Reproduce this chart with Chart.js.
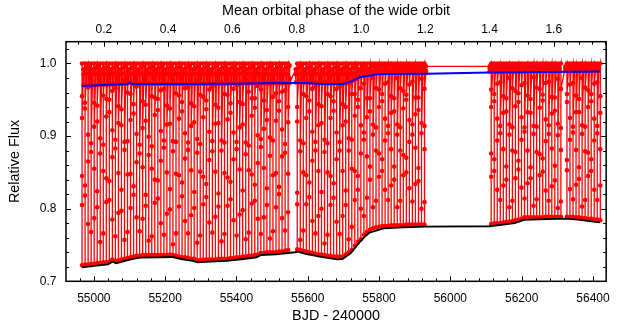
<!DOCTYPE html>
<html>
<head>
<meta charset="utf-8">
<script src="https://cdn.jsdelivr.net/npm/chart.js@4.4.1/dist/chart.umd.min.js"></script>
<style>
  html, body { margin: 0; padding: 0; background: #fff; }
  #wrap { width: 620px; height: 327px; }
</style>
</head>
<body>
<div id="wrap"><canvas id="lc"></canvas></div>
<script>
// axis ticks
const bjdTicks = [55000, 55200, 55400, 55600, 55800, 56000, 56200, 56400];
const phaseTicks = [0.2, 0.4, 0.6, 0.8, 1.0, 1.2, 1.4, 1.6];
const fluxTicks = [0.7, 0.8, 0.9, 1.0];

// primary eclipses: mid time (BJD - 2400000) and the fluxes sampled through each one
const priTime = [
  54967, 54975.5, 54984, 54992.5, 55001, 55009.5, 55018, 55026.5, 55035, 55043.5,
  55052, 55060.5, 55069, 55077.5, 55086, 55094.5, 55103, 55111.5, 55120, 55128.5,
  55137, 55145.5, 55154, 55162.5, 55171, 55179.5, 55188, 55196.5, 55205, 55213.5,
  55222, 55230.5, 55239, 55247.5, 55256, 55264.5, 55273, 55281.5, 55290, 55298.5,
  55307, 55315.5, 55324, 55332.5, 55341, 55349.5, 55358, 55366.5, 55375, 55383.5,
  55392, 55400.5, 55409, 55417.5, 55426, 55434.5, 55443, 55451.5, 55460, 55468.5,
  55477, 55485.5, 55494, 55502.5, 55511, 55519.5, 55528, 55536.5, 55545,
  55570.5, 55579, 55587.5, 55596, 55604.5, 55613, 55621.5, 55630, 55638.5, 55647,
  55655.5, 55664, 55672.5, 55681, 55689.5, 55698, 55706.5, 55715, 55723.5, 55732,
  55740.5, 55749, 55757.5, 55766, 55774.5, 55783, 55791.5, 55800, 55808.5, 55817,
  55825.5, 55834, 55842.5, 55851, 55859.5, 55868, 55876.5, 55885, 55893.5, 55902,
  55910.5, 55919, 55927.5,
  56114.5, 56123, 56131.5, 56140, 56148.5, 56157, 56165.5, 56174, 56182.5, 56191,
  56199.5, 56208, 56216.5, 56225, 56233.5, 56242, 56250.5, 56259, 56267.5, 56276,
  56284.5, 56293, 56301.5, 56310,
  56327, 56335.5, 56344, 56352.5, 56361, 56369.5, 56378, 56386.5, 56395, 56403.5,
  56412, 56420.5
];
const priFlux = [
  [1,0.955,0.845,0.722,0.805,0.925], [1,0.938,0.818,0.723,0.832,0.946], [1,0.902,0.779,0.723,0.865,0.967], [1,0.969,0.878,0.724,0.768,0.89],
  [1,0.946,0.855,0.724,0.787,0.913], [1,0.92,0.802,0.725,0.824,0.942], [1,0.974,0.897,0.725,0.754,0.876], [1,0.888,0.766,0.726,0.852,0.956],
  [1,0.951,0.842,0.726,0.809,0.927], [1,0.933,0.812,0.727,0.838,0.95], [1,0.908,0.785,0.73,0.871,0.962], [1,0.966,0.883,0.728,0.762,0.895],
  [1,0.941,0.849,0.729,0.794,0.918], [1,0.915,0.797,0.73,0.826,0.937], [1,0.977,0.892,0.731,0.757,0.881], [1,0.893,0.768,0.732,0.847,0.96],
  [1,0.958,0.848,0.733,0.801,0.922], [1,0.931,0.819,0.734,0.831,0.944], [1,0.903,0.788,0.735,0.864,0.968], [1,0.971,0.876,0.735,0.769,0.888],
  [1,0.948,0.857,0.736,0.786,0.911], [1,0.921,0.804,0.736,0.819,0.943], [1,0.973,0.899,0.736,0.756,0.874], [1,0.886,0.762,0.736,0.855,0.955],
  [1,0.953,0.84,0.736,0.808,0.929], [1,0.936,0.814,0.736,0.839,0.951], [1,0.907,0.78,0.736,0.866,0.963], [1,0.965,0.884,0.736,0.764,0.894],
  [1,0.942,0.85,0.736,0.793,0.916], [1,0.917,0.799,0.737,0.827,0.938], [1,0.976,0.893,0.736,0.751,0.879], [1,0.892,0.766,0.735,0.848,0.959],
  [1,0.956,0.846,0.734,0.803,0.924], [1,0.934,0.817,0.733,0.836,0.947], [1,0.904,0.783,0.733,0.869,0.966], [1,0.967,0.881,0.732,0.766,0.891],
  [1,0.945,0.853,0.731,0.791,0.914], [1,0.919,0.801,0.731,0.823,0.941], [1,0.975,0.896,0.729,0.753,0.877], [1,0.889,0.763,0.729,0.851,0.957],
  [1,0.954,0.844,0.73,0.806,0.926], [1,0.937,0.816,0.73,0.834,0.949], [1,0.906,0.781,0.73,0.867,0.964], [1,0.968,0.879,0.73,0.767,0.893],
  [1,0.943,0.851,0.73,0.789,0.917], [1,0.918,0.803,0.731,0.821,0.939], [1,0.974,0.894,0.731,0.755,0.88], [1,0.891,0.765,0.731,0.849,0.958],
  [1,0.957,0.843,0.731,0.804,0.923], [1,0.932,0.813,0.732,0.837,0.945], [1,0.905,0.784,0.732,0.868,0.965], [1,0.97,0.882,0.733,0.763,0.892],
  [1,0.947,0.854,0.733,0.792,0.912], [1,0.916,0.798,0.734,0.825,0.944], [1,0.978,0.891,0.734,0.758,0.875], [1,0.887,0.767,0.735,0.853,0.961],
  [1,0.952,0.847,0.735,0.807,0.928], [1,0.939,0.811,0.736,0.833,0.952], [1,0.901,0.786,0.737,0.863,0.969], [1,0.964,0.885,0.739,0.765,0.896],
  [1,0.949,0.856,0.739,0.788,0.91], [1,0.922,0.805,0.74,0.828,0.936], [1,0.972,0.898,0.74,0.759,0.873], [1,0.894,0.769,0.74,0.846,0.954],
  [1,0.959,0.849,0.74,0.802,0.921], [1,0.935,0.82,0.741,0.83,0.948], [1,0.909,0.787,0.741,0.872,0.961], [1,0.963,0.877,0.742,0.77,0.889],
  [1,0.94,0.848,0.743,0.795,0.919],
  [1,0.92,0.806,0.744,0.822,0.94], [1,0.975,0.894,0.743,0.757,0.879], [1,0.89,0.77,0.742,0.85,0.958], [1,0.955,0.846,0.741,0.806,0.925],
  [1,0.934,0.816,0.74,0.836,0.949], [1,0.906,0.783,0.739,0.866,0.965], [1,0.968,0.88,0.738,0.766,0.892], [1,0.944,0.852,0.737,0.79,0.915],
  [1,0.918,0.8,0.737,0.823,0.941], [1,0.975,0.895,0.736,0.752,0.878], [1,0.89,0.764,0.735,0.85,0.958], [1,0.955,0.845,0.735,0.805,0.925],
  [1,0.935,0.815,0.734,0.835,0.948], [1,0.905,0.782,0.734,0.868,0.965], [1,0.968,0.88,0.734,0.765,0.892], [1,0.944,0.852,0.734,0.79,0.915],
  [1,0.92,0.805,0.737,0.825,0.94], [1,0.975,0.897,0.74,0.758,0.88], [1,0.895,0.775,0.743,0.855,0.958], [1,0.958,0.852,0.749,0.812,0.928],
  [1,0.94,0.826,0.754,0.845,0.95], [1,0.915,0.8,0.758,0.876,0.966], [1,0.972,0.895,0.764,0.79,0.905], [1,0.952,0.872,0.768,0.815,0.926],
  [1,0.934,0.84,0.771,0.858,0.952], [1,0.98,0.916,0.773,0.802,0.902], [1,0.912,0.811,0.774,0.88,0.966], [1,0.964,0.876,0.775,0.844,0.94],
  [1,0.948,0.852,0.776,0.868,0.958], [1,0.924,0.826,0.776,0.894,0.972], [1,0.974,0.904,0.776,0.812,0.914], [1,0.955,0.882,0.777,0.832,0.932],
  [1,0.934,0.84,0.777,0.858,0.952], [1,0.98,0.916,0.777,0.802,0.902], [1,0.912,0.811,0.777,0.88,0.966], [1,0.962,0.874,0.777,0.846,0.938],
  [1,0.95,0.85,0.778,0.87,0.957], [1,0.922,0.828,0.778,0.892,0.971], [1,0.975,0.902,0.778,0.81,0.916], [1,0.953,0.884,0.778,0.834,0.93],
  [1,0.936,0.838,0.778,0.856,0.953], [1,0.979,0.918,0.778,0.8,0.904], [1,0.914,0.809,0.778,0.882,0.965],
  [1,0.964,0.876,0.779,0.844,0.94], [1,0.948,0.852,0.78,0.868,0.958], [1,0.924,0.826,0.78,0.894,0.972], [1,0.974,0.904,0.78,0.812,0.914],
  [1,0.955,0.882,0.781,0.832,0.932], [1,0.934,0.84,0.782,0.858,0.952], [1,0.98,0.916,0.782,0.802,0.902], [1,0.912,0.811,0.783,0.88,0.966],
  [1,0.962,0.878,0.784,0.842,0.941], [1,0.947,0.854,0.785,0.866,0.959], [1,0.926,0.829,0.786,0.895,0.97], [1,0.973,0.906,0.788,0.814,0.912],
  [1,0.956,0.88,0.788,0.835,0.933], [1,0.932,0.842,0.788,0.857,0.951], [1,0.981,0.914,0.788,0.804,0.903], [1,0.913,0.813,0.788,0.878,0.967],
  [1,0.965,0.875,0.788,0.846,0.939], [1,0.949,0.851,0.788,0.869,0.957], [1,0.923,0.825,0.789,0.893,0.973], [1,0.975,0.903,0.789,0.811,0.915],
  [1,0.954,0.883,0.789,0.831,0.931], [1,0.935,0.839,0.789,0.859,0.953], [1,0.979,0.917,0.789,0.801,0.901], [1,0.911,0.81,0.789,0.881,0.965],
  [1,0.947,0.853,0.789,0.867,0.958], [1,0.925,0.827,0.789,0.895,0.971], [1,0.973,0.905,0.789,0.813,0.913], [1,0.956,0.881,0.788,0.833,0.933],
  [1,0.933,0.841,0.788,0.857,0.951], [1,0.98,0.915,0.787,0.803,0.903], [1,0.913,0.812,0.787,0.879,0.967], [1,0.963,0.877,0.786,0.845,0.94],
  [1,0.948,0.852,0.786,0.868,0.958], [1,0.924,0.826,0.785,0.894,0.972], [1,0.974,0.904,0.785,0.812,0.914], [1,0.955,0.882,0.784,0.832,0.932]
];

// secondary eclipses (shallow, down to the blue curve)
const secTime = [
  54971.3, 54979.8, 54988.3, 54996.8, 55005.3, 55013.8, 55022.3, 55030.8, 55039.3, 55047.8,
  55056.3, 55064.8, 55073.3, 55081.8, 55090.3, 55098.8, 55107.3, 55115.8, 55124.3, 55132.8,
  55141.3, 55149.8, 55158.3, 55166.8, 55175.3, 55183.8, 55192.3, 55200.8, 55209.3, 55217.8,
  55226.3, 55234.8, 55243.3, 55251.8, 55260.3, 55268.8, 55277.3, 55285.8, 55294.3, 55302.8,
  55311.3, 55319.8, 55328.3, 55336.8, 55345.3, 55353.8, 55362.3, 55370.8, 55379.3, 55387.8,
  55396.3, 55404.8, 55413.3, 55421.8, 55430.3, 55438.8, 55447.3, 55455.8, 55464.3, 55472.8,
  55481.3, 55489.8, 55498.3, 55506.8, 55515.3, 55523.8, 55532.3, 55540.8, 55549.3,
  55566.3, 55574.8, 55583.3, 55591.8, 55600.3, 55608.8, 55617.3, 55625.8, 55634.3, 55642.8,
  55651.3, 55659.8, 55668.3, 55676.8, 55685.3, 55693.8, 55702.3, 55710.8, 55719.3, 55727.8,
  55736.3, 55744.8, 55753.3, 55761.8, 55770.3, 55778.8, 55787.3, 55795.8, 55804.3, 55812.8,
  55821.3, 55829.8, 55838.3, 55846.8, 55855.3, 55863.8, 55872.3, 55880.8, 55889.3, 55897.8,
  55906.3, 55914.8, 55923.3, 55931.8,
  56110.3, 56118.8, 56127.3, 56135.8, 56144.3, 56152.8, 56161.3, 56169.8, 56178.3, 56186.8,
  56195.3, 56203.8, 56212.3, 56220.8, 56229.3, 56237.8, 56246.3, 56254.8, 56263.3, 56271.8,
  56280.3, 56288.8, 56297.3, 56305.8,
  56322.8, 56331.3, 56339.8, 56348.3, 56356.8, 56365.3, 56373.8, 56382.3, 56390.8, 56399.3,
  56407.8, 56416.3
];
const secFlux = [
  [0.992,0.97,0.985], [0.986,0.97,0.994], [0.997,0.98,0.97], [0.992,0.97,0.985], [0.986,0.97,0.994],
  [0.997,0.98,0.971], [0.992,0.971,0.985], [0.986,0.971,0.994], [0.997,0.98,0.971], [0.992,0.971,0.985],
  [0.986,0.971,0.994], [0.997,0.98,0.972], [0.992,0.972,0.985], [0.986,0.972,0.994], [0.997,0.98,0.972],
  [0.992,0.974,0.985], [0.986,0.972,0.994], [0.997,0.98,0.972], [0.992,0.972,0.985], [0.986,0.972,0.994],
  [0.997,0.98,0.972], [0.992,0.972,0.985], [0.986,0.972,0.994], [0.997,0.98,0.972], [0.992,0.972,0.985],
  [0.986,0.972,0.994], [0.997,0.98,0.972], [0.992,0.972,0.985], [0.986,0.972,0.994], [0.997,0.98,0.972],
  [0.992,0.972,0.985], [0.986,0.972,0.994], [0.997,0.98,0.972], [0.992,0.972,0.985], [0.986,0.972,0.994],
  [0.997,0.98,0.972], [0.992,0.972,0.985], [0.986,0.972,0.994], [0.997,0.98,0.972], [0.992,0.972,0.985],
  [0.986,0.972,0.994], [0.997,0.98,0.972], [0.992,0.972,0.985], [0.986,0.972,0.994], [0.997,0.98,0.972],
  [0.992,0.972,0.985], [0.986,0.972,0.994], [0.997,0.98,0.972], [0.992,0.973,0.985], [0.986,0.973,0.994],
  [0.997,0.98,0.973], [0.992,0.973,0.985], [0.986,0.973,0.994], [0.997,0.98,0.973], [0.992,0.973,0.985],
  [0.986,0.973,0.994], [0.997,0.98,0.973], [0.992,0.973,0.985], [0.986,0.973,0.994], [0.997,0.98,0.973],
  [0.992,0.973,0.985], [0.986,0.973,0.994], [0.997,0.98,0.973], [0.992,0.973,0.985], [0.986,0.973,0.994],
  [0.997,0.98,0.973], [0.992,0.973,0.985], [0.986,0.973,0.994], [0.997,0.98,0.973],
  [0.992,0.974,0.985], [0.986,0.974,0.994], [0.997,0.98,0.974], [0.992,0.974,0.985], [0.986,0.974,0.994],
  [0.997,0.98,0.974], [0.992,0.974,0.985], [0.986,0.974,0.994], [0.997,0.98,0.974], [0.992,0.973,0.985],
  [0.986,0.973,0.994], [0.997,0.98,0.973], [0.992,0.973,0.985], [0.986,0.973,0.994], [0.997,0.98,0.973],
  [0.992,0.973,0.985], [0.986,0.973,0.994], [0.997,0.98,0.973], [0.992,0.973,0.985], [0.986,0.977,0.994],
  [0.997,0.985,0.979], [0.992,0.982,0.988], [0.99,0.983,0.995], [0.997,0.99,0.984], [0.993,0.985,0.99],
  [0.99,0.986,0.996], [0.997,0.99,0.987], [0.995,0.987,0.991], [0.99,0.987,0.996], [0.997,0.99,0.987],
  [0.995,0.987,0.991], [0.99,0.987,0.996], [0.997,0.99,0.987], [0.995,0.987,0.991], [0.99,0.987,0.996],
  [0.997,0.99,0.987], [0.995,0.987,0.991], [0.99,0.987,0.996], [0.997,0.99,0.987], [0.995,0.987,0.991],
  [0.99,0.987,0.996], [0.997,0.99,0.987], [0.995,0.987,0.991], [0.99,0.987,0.996],
  [0.996,0.989,0.993], [0.993,0.989,0.997], [0.998,0.993,0.989], [0.996,0.989,0.993], [0.993,0.989,0.997],
  [0.998,0.993,0.989], [0.996,0.989,0.993], [0.993,0.989,0.997], [0.998,0.993,0.989], [0.996,0.989,0.993],
  [0.993,0.989,0.997], [0.998,0.993,0.989], [0.996,0.99,0.993], [0.993,0.99,0.997], [0.998,0.993,0.99],
  [0.996,0.99,0.993], [0.993,0.99,0.997], [0.998,0.993,0.99], [0.996,0.99,0.993], [0.993,0.99,0.997],
  [0.998,0.993,0.99], [0.996,0.99,0.993], [0.993,0.99,0.997], [0.998,0.993,0.99],
  [0.996,0.99,0.993], [0.993,0.99,0.997], [0.998,0.993,0.99], [0.996,0.99,0.993], [0.993,0.99,0.997],
  [0.998,0.993,0.99], [0.996,0.99,0.993], [0.993,0.99,0.997], [0.998,0.993,0.99], [0.996,0.99,0.993],
  [0.993,0.99,0.997], [0.998,0.993,0.99]
];

// black curve: depth of the primary minima
const lowTime = [54967, 55008, 55040, 55052, 55063, 55095, 55128, 55183, 55219, 55245,
  55277, 55291, 55328, 55373, 55419, 55456, 55469, 55511, 55564, 55573,
  55591, 55637, 55683, 55697, 55720, 55747, 55760, 55775, 55813, 55868,
  55932, 56110, 56143, 56180, 56207, 56272, 56327, 56363, 56400, 56420];
const lowFlux = [0.7193, 0.7215, 0.7234, 0.727, 0.7248, 0.7293, 0.7325, 0.733, 0.7335, 0.7307,
  0.728, 0.7262, 0.727, 0.728, 0.7307, 0.733, 0.7362, 0.737, 0.740, 0.7408,
  0.738, 0.7335, 0.7303, 0.7307, 0.7386, 0.7546, 0.7615, 0.7675, 0.773, 0.7744,
  0.7753, 0.7758, 0.7776, 0.780, 0.7845, 0.7855, 0.7863, 0.7845, 0.7822, 0.7813];

// blue curve: depth of the secondary minima
const highTime = [54967, 55060, 55095, 55100, 55110, 55220, 55400, 55510, 55590, 55640,
  55700, 55720, 55747, 55775, 55800, 55932, 56110, 56420];
const highFlux = [0.969, 0.9712, 0.9716, 0.973, 0.9716, 0.9716, 0.972, 0.973, 0.973, 0.9716,
  0.9718, 0.975, 0.981, 0.9835, 0.9855, 0.9858, 0.9876, 0.989];

// put eclipses in time order and flatten into one light curve
let events = [];
priTime.forEach((t, i) => events.push([t, priFlux[i]]));
secTime.forEach((t, i) => events.push([t, secFlux[i]]));
events.sort((a, b) => a[0] - b[0]);
let curve = [];
events.forEach(ev => ev[1].forEach(f => curve.push({x: ev[0], y: f})));

let lowCurve = lowTime.map((t, i) => ({x: t, y: lowFlux[i]}));
let highCurve = highTime.map((t, i) => ({x: t, y: highFlux[i]}));

Chart.defaults.font.family = '"Liberation Sans", Arial, sans-serif';
Chart.defaults.color = '#000';

//inward ticks on all four sides + the box
const frame = {
  id: 'frame',
  afterDraw(chart) {
    const ctx = chart.ctx;
    const a = chart.chartArea;
    const sx = chart.scales.x, st = chart.scales.x2, sy = chart.scales.y;
    ctx.save();
    ctx.strokeStyle = '#000';
    ctx.lineWidth = 1;
    ctx.beginPath();
    for (let k = 0; k * 40 + 54960 <= sx.max; k++) {
      const v = 54960 + k * 40;
      const px = Math.round(sx.getPixelForValue(v)) + 0.5;
      const len = (v % 200 === 0) ? 5 : 3;
      ctx.moveTo(px, a.bottom); ctx.lineTo(px, a.bottom - len);
    }
    for (let k = 3; k * 0.04 <= st.max; k++) {
      const px = Math.round(st.getPixelForValue(k * 0.04)) + 0.5;
      const len = (k % 5 === 0) ? 5 : 3;
      ctx.moveTo(px, a.top); ctx.lineTo(px, a.top + len);
    }
    for (let k = 35; k * 0.02 <= sy.max + 1e-9; k++) {
      const py = Math.round(sy.getPixelForValue(k * 0.02)) + 0.5;
      const len = (k % 5 === 0) ? 5 : 3;
      ctx.moveTo(a.left, py); ctx.lineTo(a.left + len, py);
      ctx.moveTo(a.right, py); ctx.lineTo(a.right - len, py);
    }
    ctx.stroke();
    ctx.lineWidth = 1.5;
    ctx.strokeRect(a.left, a.top, a.right - a.left, a.bottom - a.top);
    ctx.restore();
  }
};

new Chart(document.getElementById('lc'), {
  type: 'scatter',
  data: {
    datasets: [
      {
        data: highCurve, showLine: true, borderColor: '#0000ff', borderWidth: 2,
        pointRadius: 0, order: 1
      },
      {
        data: lowCurve, showLine: true, borderColor: '#000', borderWidth: 1.8,
        pointRadius: 0, order: 2
      },
      {
        data: curve, showLine: true, borderColor: '#ff0000', borderWidth: 1.3,
        pointRadius: 2.3, pointBackgroundColor: '#ff0000', pointBorderWidth: 0,
        order: 3
      }
    ]
  },
  options: {
    responsive: true,
    maintainAspectRatio: false,
    animation: false,
    devicePixelRatio: 1,
    layout: { padding: { left: 0, right: 3.5, top: 0, bottom: 0 } },
    plugins: { legend: { display: false }, tooltip: { enabled: false } },
    scales: {
      x: {
        type: 'linear', position: 'bottom', min: 54922, max: 56437,
        grid: { display: false, drawTicks: false }, border: { display: false },
        afterBuildTicks: s => { s.ticks = bjdTicks.map(v => ({value: v})); },
        afterFit: s => { s.height = 45.7; },
        ticks: { padding: 10, font: { size: 12 }, maxRotation: 0, callback: v => String(v) },
        title: { display: true, text: 'BJD - 240000', font: { size: 14.4 }, padding: { top: 0, bottom: 2 } }
      },
      x2: {
        type: 'linear', position: 'top', min: 0.082, max: 1.763,
        grid: { display: false, drawTicks: false }, border: { display: false },
        afterBuildTicks: s => { s.ticks = phaseTicks.map(v => ({value: v})); },
        afterFit: s => { s.height = 41.7; },
        ticks: { padding: 5, font: { size: 12 }, maxRotation: 0, callback: v => v.toFixed(1) },
        title: { display: true, text: 'Mean orbital phase of the wide orbit', font: { size: 14.4 }, padding: { top: 2, bottom: 0 } }
      },
      y: {
        type: 'linear', position: 'left', min: 0.7, max: 1.03,
        grid: { display: false, drawTicks: false }, border: { display: false },
        afterBuildTicks: s => { s.ticks = fluxTicks.map(v => ({value: v})); },
        afterFit: s => { s.width = 66; },
        ticks: { padding: 9.5, font: { size: 12 }, callback: v => v.toFixed(1) },
        title: { display: true, text: 'Relative Flux', font: { size: 14.4 }, padding: { top: 6.6, bottom: 0 } }
      }
    }
  },
  plugins: [frame]
});
</script>
</body>
</html>
